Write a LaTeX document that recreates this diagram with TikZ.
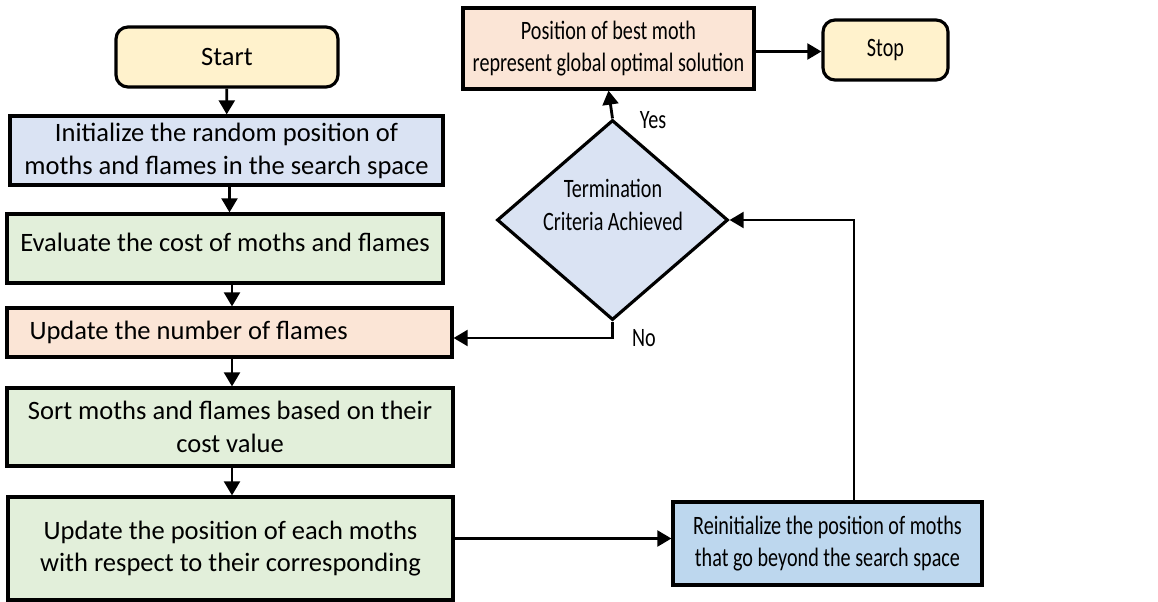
\documentclass[tikz,border=0pt]{standalone}
\usepackage{fontspec}
\setmainfont{Carlito}
\newfontfamily\narrowfont[FakeStretch=0.76]{Carlito}
\usetikzlibrary{shapes.geometric,arrows.meta}
\definecolor{termfill}{HTML}{FFF2CC}
\definecolor{bluefill}{HTML}{DAE3F3}
\definecolor{greenfill}{HTML}{E2EFDA}
\definecolor{peachfill}{HTML}{FBE5D6}
\definecolor{skyfill}{HTML}{BDD7EE}
\begin{document}
\begin{tikzpicture}[x=0.02cm,y=-0.02cm,
  every node/.style={font=\fontsize{15.1}{18.7}\selectfont, text=black},
  narrowtext/.style={font=\fontsize{15.1}{18.7}\narrowfont},
  box/.style={draw=black, line width=1.8pt, rectangle, inner sep=0pt, align=center},
  term/.style={box, rounded corners=0.24cm, fill=termfill},
  flow/.style={line width=1.6pt, -{Triangle[length=8pt,width=9pt]}},
  lbl/.style={inner sep=0pt}]
\useasboundingbox (0,0) rectangle (1158,601);

% left column
\node[term, minimum width=222*0.02cm, minimum height=60*0.02cm] (start) at (227,57) {Start};
\node[box, fill=bluefill, minimum width=433*0.02cm, minimum height=69*0.02cm] (init) at (226.5,150.5)
  {Initialize the random position of\\moths and flames in the search space};
\node[box, fill=greenfill, minimum width=436*0.02cm, minimum height=69*0.02cm, text depth=0.25cm] (eval) at (225,248.5)
  {Evaluate the cost of moths and flames};
\node[box, fill=peachfill, minimum width=445*0.02cm, minimum height=49*0.02cm, text width=400*0.02cm, align=flush left] (flames) at (229.5,332.5)
  {Update the number of flames};
\node[box, fill=greenfill, minimum width=446*0.02cm, minimum height=78*0.02cm] (sort) at (230,427)
  {Sort moths and flames based on their\\cost value};
\node[box, fill=greenfill, minimum width=445*0.02cm, minimum height=103*0.02cm] (updpos) at (230.5,548.5)
  {Update the position of each moths\\with respect to their corresponding};

% right part
\node[box, fill=peachfill, minimum width=291*0.02cm, minimum height=81*0.02cm, narrowtext] (best) at (608.5,48.5)
  {Position of best moth\\represent global optimal solution};
\node[term, minimum width=125*0.02cm, minimum height=60*0.02cm, narrowtext] (stop) at (885.5,50) {Stop};
\node[diamond, draw=black, line width=1.8pt, fill=bluefill, inner sep=0pt, minimum width=231*0.02cm, minimum height=200*0.02cm] (dec) at (612.5,220) {};
\node[lbl, align=center, narrowtext] (dectext) at (613,205) {Termination\\Criteria Achieved};
\node[box, fill=skyfill, minimum width=309*0.02cm, minimum height=83*0.02cm, narrowtext] (reinit) at (827.5,543.5)
  {Reinitialize the position of moths\\that go beyond the search space};

% connectors
\draw[flow] (start) -- (init);
\draw[flow] ([xshift=3*0.02cm]init.south) -- ([xshift=3*0.02cm]init.south |- eval.north);
\draw[flow] ([xshift=7*0.02cm]eval.south) -- ([xshift=7*0.02cm]eval.south |- flames.north);
\draw[flow] ([xshift=2.5*0.02cm]flames.south) -- ([xshift=2.5*0.02cm]flames.south |- sort.north);
\draw[flow] ([xshift=2*0.02cm]sort.south) -- ([xshift=2*0.02cm]sort.south |- updpos.north);
\draw[flow] ([yshift=5*0.02cm]updpos.east |- reinit.west) -- ([yshift=5*0.02cm]reinit.west);
\draw[flow] ([xshift=26.5*0.02cm]reinit.north) |- (dec.east);
\coordinate (nobend) at (612.5,338);
\draw[flow] (dec.south) -- (nobend) -- (nobend -| flames.east);
\draw[flow] (dec.north) -- (best.south);
\draw[flow] ([yshift=-3*0.02cm]best.east) -- ([yshift=-3*0.02cm]best.east -| stop.west);

% branch labels
\node[lbl, narrowtext] (yes) at (653,120) {Yes};
\node[lbl, narrowtext] (no) at (644,338) {No};
\end{tikzpicture}
\end{document}
